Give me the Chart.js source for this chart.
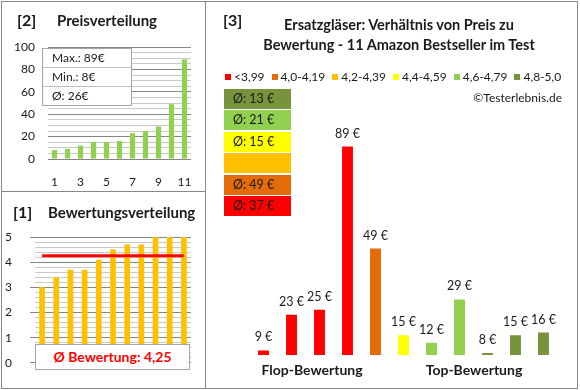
<!DOCTYPE html>
<html lang="de">
<head>
<meta charset="UTF-8">
<title>Ersatzgläser - Preis zu Bewertung</title>
<script src="https://cdn.jsdelivr.net/npm/chart.js"></script>
<style>
  body { margin: 0; padding: 0; background: #fff; font-family: Lato, "Open Sans", sans-serif; color: #1a1a1a; }
  #page { position: relative; width: 580px; height: 390px; overflow: hidden; }
  #page div, #page canvas { position: absolute; }
  .frame { left: 1px; top: 1px; width: 575px; height: 386px; border: 1px solid #888; }
  .vline { left: 205px; top: 1px; width: 1px; height: 388px; background: #888; }
  .hline { left: 1px; top: 191px; width: 205px; height: 1px; background: #888; }
  .num { font-weight: bold; font-size: 16px; line-height: 20px; }
  .ttl { font-weight: bold; font-size: 15px; line-height: 20px; white-space: nowrap; }

  /* stats box in price chart */
  #stats { left: 42px; top: 48px; width: 88px; background: #fff; border: 1px solid #a6a6a6; font-size: 12px; }
  #stats > div { position: relative !important; height: 18px; line-height: 18px; padding-left: 9px; border-top: 1px solid #c0c0c0; }
  #stats > div:first-child { border-top: none; }

  #avgRating { left: 35px; top: 344px; width: 153px; height: 24px; background: #fff; border: 1px solid #a6a6a6;
               color: #ff0000; font-weight: bold; font-size: 14px; line-height: 24px; text-align: center; }

  #title3 { left: 239px; top: 15px; width: 320px; text-align: center; font-weight: bold; font-size: 14.5px; line-height: 20px; white-space: nowrap; }
  #legend { left: 225px; top: 69px; display: flex; font-size: 12px; line-height: 16px; white-space: nowrap; }
  #legend span.item { display: inline-flex; align-items: center; margin-right: 7px; }
  #legend span.sq { display: inline-block; width: 6px; height: 6px; margin-right: 3px; }
  #copy { left: 420px; top: 90px; width: 142px; text-align: right; font-size: 12px; line-height: 16px; }
  .avg { left: 224px; width: 58px; height: 20px; padding-left: 9px; font-size: 12.5px; line-height: 20px; }
  .grp { width: 130px; text-align: center; font-weight: bold; font-size: 14px; line-height: 18px; }
</style>
</head>
<body>
<div id="page">
  <div class="frame"></div>
  <div class="vline"></div>
  <div class="hline"></div>

  <!-- [2] price distribution -->
  <canvas id="priceChart" width="205" height="191" style="left:0;top:0"></canvas>
  <div class="num" style="left:17px;top:10px">[2]</div>
  <div class="ttl" style="left:57px;top:10px">Preisverteilung</div>
  <div id="stats"></div>

  <!-- [1] rating distribution -->
  <canvas id="ratingChart" width="205" height="197" style="left:0;top:191px"></canvas>
  <div class="num" style="left:13px;top:202px">[1]</div>
  <div class="ttl" style="left:48px;top:202px">Bewertungsverteilung</div>
  <div id="avgRating"></div>

  <!-- [3] price vs rating -->
  <canvas id="mainChart" width="371" height="387" style="left:206px;top:1px"></canvas>
  <div class="num" style="left:223px;top:10px">[3]</div>
  <div id="title3">Ersatzgläser: Verhältnis von Preis zu<br>Bewertung - 11 Amazon Bestseller im Test</div>
  <div id="legend"></div>
  <div id="copy">©Testerlebnis.de</div>
  <div id="avgBoxes"></div>
  <div class="grp" style="left:247px;top:361px"></div>
  <div class="grp" style="left:409px;top:361px"></div>
</div>

<script>
    // products in test order (chart [3])
    const prices  = [9, 23, 25, 89, 49, 15, 12, 29, 8, 15, 16];
    const ratings = [3.0, 3.4, 3.7, 3.7, 4.1, 4.5, 4.7, 4.7, 5.0, 5.0, 5.0];

    // rating bands
    const bandLabels = ['<3,99', '4,0-4,19', '4,2-4,39', '4,4-4,59', '4,6-4,79', '4,8-5,0'];
    const bandFloors = [0, 4.0, 4.2, 4.4, 4.6, 4.8];
    const bandColors = ['#ff0000', '#e36c09', '#ffc000', '#ffff00', '#92d050', '#77933c'];

    const groupLabels = ['Flop-Bewertung', 'Top-Bewertung'];
    const rankLabels = ['1', '2', '3', '4', '5', '6', '7', '8', '9', '10', '11'];

    const FONT = 'Lato';
    const TEXT = '#1a1a1a';

    function bandOf(r) {
        let b = 0;
        bandFloors.forEach((f, i) => { if (r >= f - 1e-9) b = i; });
        return b;
    }

    function fmt(n) { return String(n).replace('.', ','); }

    const sortedPrices = prices.slice().sort((a, b) => a - b);
    const sortedRatings = ratings.slice().sort((a, b) => a - b);
    const avgPrice = prices.reduce((a, b) => a + b, 0) / prices.length;
    const avgRating = ratings.reduce((a, b) => a + b, 0) / ratings.length;

    // text boxes
    document.getElementById('stats').innerHTML =
        '<div>Max.: ' + Math.max(...prices) + '€</div>' +
        '<div>Min.: ' + Math.min(...prices) + '€</div>' +
        '<div>Ø: ' + Math.round(avgPrice) + '€</div>';
    document.getElementById('avgRating').textContent = 'Ø Bewertung: ' + fmt(avgRating.toFixed(2));

    const legend = document.getElementById('legend');
    bandLabels.forEach((lab, i) => {
        const item = document.createElement('span');
        item.className = 'item';
        item.innerHTML = '<span class="sq" style="background:' + bandColors[i] + '"></span>' + lab;
        legend.appendChild(item);
    });

    // average price per band, boxes top to bottom = best band first
    const avgBoxes = document.getElementById('avgBoxes');
    for (let k = 0; k < bandLabels.length; k++) {
        const b = bandLabels.length - 1 - k;
        const inBand = prices.filter((p, i) => bandOf(ratings[i]) === b);
        const box = document.createElement('div');
        box.className = 'avg';
        box.style.top = (89 + k * 21.4) + 'px';
        box.style.background = bandColors[b];
        box.textContent = inBand.length ? 'Ø: ' + Math.round(inBand.reduce((a, c) => a + c, 0) / inBand.length) + ' €' : '';
        avgBoxes.appendChild(box);
    }

    document.querySelectorAll('.grp').forEach((el, i) => { el.textContent = groupLabels[i]; });

    // grid helpers
    const MAJOR = '#868686';
    const MINOR = '#c9c9c9';

    // [2] Preisverteilung
    new Chart(document.getElementById('priceChart'), {
        type: 'bar',
        data: {
            labels: rankLabels,
            datasets: [{ data: sortedPrices, backgroundColor: '#92d050', barPercentage: 0.4, categoryPercentage: 1 }]
        },
        options: {
            responsive: false,
            animation: false,
            layout: { padding: { left: 0, right: 14, top: 47, bottom: 0 } },
            plugins: { legend: { display: false }, tooltip: { enabled: false } },
            scales: {
                x: {
                    grid: { display: false },
                    border: { display: false },
                    ticks: {
                        autoSkip: false, maxRotation: 0, padding: 8, color: TEXT, font: { family: FONT, size: 12 },
                        callback: (v, i) => i % 2 === 0 ? rankLabels[i] : ''
                    },
                    afterFit: s => { s.height = 32; }
                },
                y: {
                    min: 0, max: 100,
                    border: { display: false },
                    grid: { drawTicks: false, color: c => c.tick.value % 20 === 0 ? MAJOR : MINOR },
                    ticks: {
                        stepSize: 5, autoSkip: false, padding: 13, color: TEXT, font: { family: FONT, size: 12 },
                        callback: v => v % 20 === 0 ? v : ''
                    },
                    afterFit: s => { s.width = 48; }
                }
            }
        }
    });

    // [1] Bewertungsverteilung
    const isInt = v => Math.abs(v - Math.round(v)) < 1e-6;
    new Chart(document.getElementById('ratingChart'), {
        data: {
            labels: rankLabels,
            datasets: [
                { type: 'line', data: rankLabels.map(() => avgRating), borderColor: '#ff0000', borderWidth: 3,
                  pointRadius: 0, order: 0 },
                { type: 'bar', data: sortedRatings, backgroundColor: '#ffc000', barPercentage: 0.4,
                  categoryPercentage: 1, order: 1 }
            ]
        },
        options: {
            responsive: false,
            animation: false,
            layout: { padding: { left: 0, right: 14, top: 46, bottom: 16 } },
            plugins: { legend: { display: false }, tooltip: { enabled: false } },
            scales: {
                x: { display: false },
                y: {
                    min: 0, max: 5,
                    border: { display: false },
                    grid: {
                        tickLength: 5,
                        color: c => isInt(c.tick.value) ? MAJOR : MINOR,
                        tickColor: c => isInt(c.tick.value) ? MAJOR : 'rgba(0,0,0,0)'
                    },
                    ticks: {
                        stepSize: 0.2, autoSkip: false, padding: 18, color: TEXT, font: { family: FONT, size: 12 },
                        callback: v => isInt(v) ? Math.round(v) : ''
                    },
                    afterFit: s => { s.width = 35; }
                }
            }
        }
    });

    // [3] price per product, coloured by rating band
    const priceLabels = {
        id: 'priceLabels',
        afterDatasetsDraw(chart) {
            const ctx = chart.ctx;
            ctx.save();
            ctx.font = '12.5px ' + FONT;
            ctx.fillStyle = TEXT;
            ctx.textAlign = 'center';
            ctx.textBaseline = 'middle';
            chart.getDatasetMeta(0).data.forEach((bar, i) => {
                ctx.fillText(prices[i] + ' €', bar.x, bar.y - 13);
            });
            ctx.restore();
        }
    };

    new Chart(document.getElementById('mainChart'), {
        type: 'bar',
        data: {
            labels: rankLabels,
            datasets: [{
                data: prices,
                backgroundColor: ratings.map(r => bandColors[bandOf(r)]),
                barPercentage: 0.39, categoryPercentage: 1
            }]
        },
        options: {
            responsive: false,
            animation: false,
            layout: { padding: { left: 43.5, right: 19.5, top: 117.6, bottom: 33 } },
            plugins: { legend: { display: false }, tooltip: { enabled: false } },
            scales: {
                x: { display: false },
                y: { display: false, min: 7.2, max: 100 }
            }
        },
        plugins: [priceLabels]
    });
</script>
</body>
</html>
